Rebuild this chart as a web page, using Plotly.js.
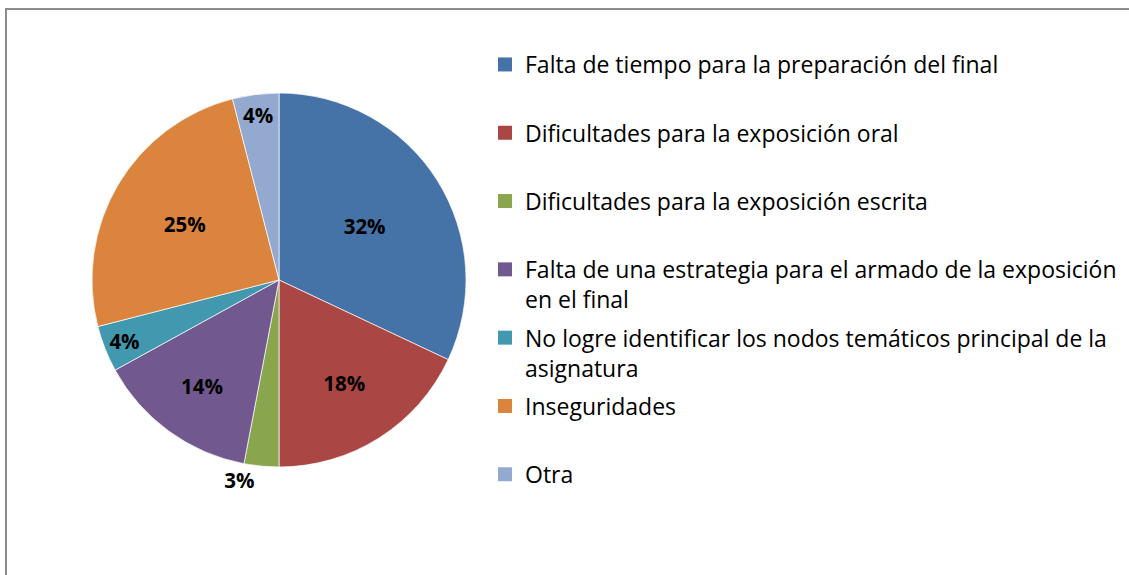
<!DOCTYPE html>
<html>
<head>
<meta charset="utf-8">
<script src="https://cdn.plot.ly/plotly-3.0.1.min.js"></script>
<style>
  html, body { margin: 0; padding: 0; background: #fff; overflow: hidden; }
  #wrap { position: relative; width: 1129px; height: 575px; overflow: hidden; }
  #chart { position: absolute; left: 0; top: 0; width: 1129px; height: 575px; }
  #frameTop { position: absolute; left: 5px; top: 8px; width: 1124px; height: 2px; background: #8c8c8c; pointer-events: none; }
  #frameLeft { position: absolute; left: 5px; top: 8px; width: 2px; height: 567px; background: #8c8c8c; pointer-events: none; }
</style>
</head>
<body>
<div id="wrap">
  <div id="chart"></div>
  <div id="frameTop"></div>
  <div id="frameLeft"></div>
</div>
<script>
const categories = [
  "Falta de tiempo para la preparación del final",
  "Dificultades para la exposición oral",
  "Dificultades para la exposición escrita",
  "Falta de una estrategia para el armado de la exposición en el final",
  "No logre identificar los nodos temáticos principal de la asignatura",
  "Inseguridades",
  "Otra"
];
const legendLabels = [
  "Falta de tiempo para la preparación del final<br>\u00a0",
  "Dificultades para la exposición oral<br>\u00a0",
  "Dificultades para la exposición escrita<br>\u00a0",
  "Falta de una estrategia para el armado de la exposición<br>en el final",
  "No logre identificar los nodos temáticos principal de la<br>asignatura",
  "Inseguridades<br>\u00a0",
  "Otra<br>\u00a0"
];
const values = [32, 18, 3, 14, 4, 25, 4];
const colors = ["#4572A7", "#AA4643", "#89A54E", "#71588F", "#4198AF", "#DB843D", "#93A9CF"];
const textPositions = ["inside", "inside", "outside", "inside", "inside", "inside", "inside"];

const W = 1129, H = 575;
const traces = [{
  type: "pie",
  labels: categories,
  values: values,
  sort: false,
  direction: "clockwise",
  rotation: 0,
  marker: { colors: colors, line: { color: "#ffffff", width: 0.7 } },
  texttemplate: "%{percent:.0%}",
  textposition: textPositions,
  insidetextorientation: "horizontal",
  textfont: { family: "'Open Sans', sans-serif", size: 20.5, color: "#000", weight: "bold" },
  domain: { x: [92 / W, 466 / W], y: [1 - 467 / H, 1 - 93 / H] },
  showlegend: false,
  hoverinfo: "label+percent"
}];
categories.forEach((c, i) => {
  traces.push({
    type: "scatter", mode: "markers",
    x: [null], y: [null],
    name: legendLabels[i],
    legendgroup: "g" + i,
    marker: { color: colors[i], symbol: "square", size: 14 },
    hoverinfo: "skip"
  });
});

const layout = {
  width: W, height: H,
  margin: { l: 0, r: 0, t: 0, b: 0 },
  paper_bgcolor: "rgba(0,0,0,0)",
  plot_bgcolor: "rgba(0,0,0,0)",
  xaxis: { visible: false },
  yaxis: { visible: false },
  showlegend: true,
  legend: {
    x: 485 / W, xanchor: "left",
    y: 1 - 43 / H, yanchor: "top",
    valign: "top",
    tracegroupgap: 5.5,
    font: { family: "'Open Sans', sans-serif", size: 23, color: "#000" },
    bgcolor: "rgba(0,0,0,0)"
  }
};
Plotly.newPlot("chart", traces, layout, { displayModeBar: false, staticPlot: true });
</script>
</body>
</html>
